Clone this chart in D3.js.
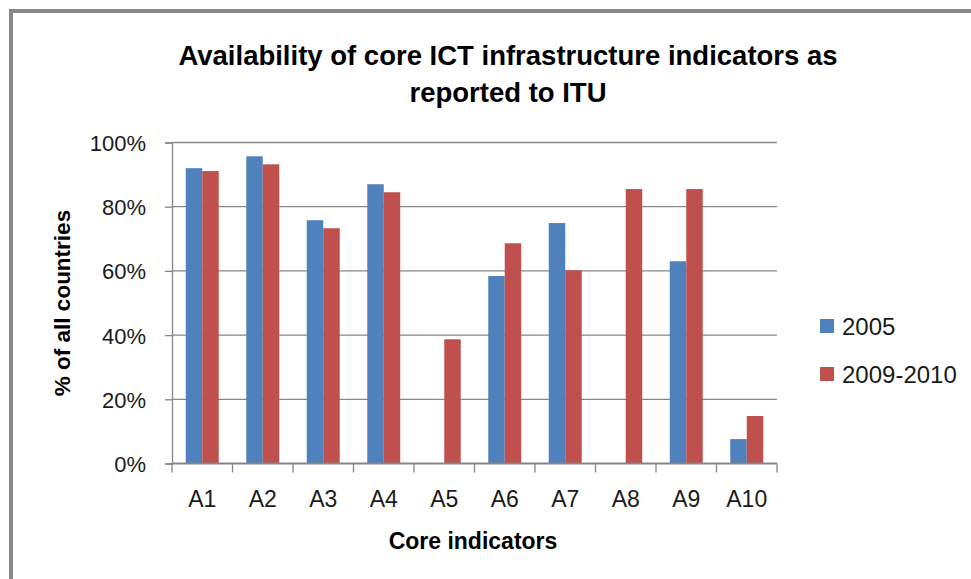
<!DOCTYPE html>
<html>
<head>
<meta charset="utf-8">
<script src="https://cdn.jsdelivr.net/npm/d3@7"></script>
<style>
  html, body { margin: 0; padding: 0; background: #fff; }
  svg { display: block; }
</style>
</head>
<body>
<div id="chart"></div>
<script>
// Data
const categories = ['A1', 'A2', 'A3', 'A4', 'A5', 'A6', 'A7', 'A8', 'A9', 'A10'];
const seriesNames = ['2005', '2009-2010'];
const values2005 = [0.920, 0.957, 0.758, 0.870, 0, 0.584, 0.749, 0, 0.630, 0.076];
const values2010 = [0.911, 0.932, 0.733, 0.845, 0.387, 0.686, 0.602, 0.855, 0.855, 0.148];
const yTicks = [0, 0.2, 0.4, 0.6, 0.8, 1.0];
const colors = ['#4f81bd', '#c0504d'];

// Config
const width = 971;
const height = 579;
const margin = {top: 142.5, right: 194, bottom: 115.5, left: 172};
const gridColor = '#868686';
const font = '"Liberation Sans", Arial, sans-serif';

const data = categories.map((c, i) => ({key: c, values: [values2005[i], values2010[i]]}));

const svg = d3.select('#chart').append('svg')
  .attr('width', width)
  .attr('height', height);

// Outer chart border (only top and left are visible in the frame)
svg.append('rect')
  .attr('x', 11)
  .attr('y', 11)
  .attr('width', width + 20)
  .attr('height', height + 20)
  .attr('fill', 'none')
  .attr('stroke', '#888888')
  .attr('stroke-width', 4);

// Scales
const x0 = d3.scaleBand()
  .domain(categories)
  .range([margin.left, width - margin.right])
  .paddingInner(0.455)
  .paddingOuter(0.2275);

const x1 = d3.scaleBand()
  .domain([0, 1])
  .range([0, x0.bandwidth()]);

const xCat = d3.scaleBand()
  .domain(categories)
  .range([margin.left, width - margin.right]);

const y = d3.scaleLinear()
  .domain([0, 1])
  .range([height - margin.bottom, margin.top]);

// Gridlines
svg.append('g')
  .selectAll('line')
  .data(yTicks.slice(1))
  .join('line')
  .attr('x1', margin.left)
  .attr('x2', width - margin.right)
  .attr('y1', d => y(d))
  .attr('y2', d => y(d))
  .attr('stroke', gridColor)
  .attr('stroke-width', 1.3);

// Bars
svg.append('g')
  .selectAll('g')
  .data(data)
  .join('g')
  .attr('transform', d => `translate(${x0(d.key)},0)`)
  .selectAll('rect')
  .data(d => d.values.map((v, i) => ({i, v})))
  .join('rect')
  .attr('x', d => x1(d.i))
  .attr('width', x1.bandwidth())
  .attr('y', d => y(d.v))
  .attr('height', d => y(0) - y(d.v))
  .attr('fill', d => colors[d.i]);

// Y axis
const yAxis = svg.append('g')
  .attr('transform', `translate(${margin.left},0)`)
  .call(d3.axisLeft(y).tickValues(yTicks).tickFormat(d3.format('.0%')).tickSize(7).tickPadding(19));
yAxis.select('.domain').attr('stroke', gridColor).attr('stroke-width', 1.3);
yAxis.selectAll('.tick line').attr('stroke', gridColor).attr('stroke-width', 1.3);
yAxis.selectAll('.tick text')
  .attr('font-family', font)
  .attr('font-size', 22)
  .attr('fill', '#1a1a1a')
  .attr('dy', '0.36em');

// X axis: ticks at category boundaries
const xAxisG = svg.append('g')
  .attr('transform', `translate(0,${height - margin.bottom})`);
xAxisG.append('line')
  .attr('x1', margin.left)
  .attr('x2', width - margin.right)
  .attr('stroke', gridColor)
  .attr('stroke-width', 2);
xAxisG.selectAll('.bound')
  .data(categories.concat(['end']))
  .join('line')
  .attr('class', 'bound')
  .attr('x1', (d, i) => i < categories.length ? xCat(d) : xCat.range()[1])
  .attr('x2', (d, i) => i < categories.length ? xCat(d) : xCat.range()[1])
  .attr('y1', 0)
  .attr('y2', 9)
  .attr('stroke', gridColor)
  .attr('stroke-width', 1.3);
xAxisG.selectAll('.lbl')
  .data(categories)
  .join('text')
  .attr('class', 'lbl')
  .attr('x', d => xCat(d) + xCat.bandwidth() / 2)
  .attr('y', 43)
  .attr('text-anchor', 'middle')
  .attr('font-family', font)
  .attr('font-size', 23)
  .attr('fill', '#1a1a1a')
  .text(d => d);

// Axis titles
svg.append('text')
  .attr('x', 473)
  .attr('y', 549)
  .attr('text-anchor', 'middle')
  .attr('font-family', font)
  .attr('font-size', 23)
  .attr('font-weight', 'bold')
  .attr('fill', '#000')
  .text('Core indicators');

svg.append('text')
  .attr('transform', 'translate(70,303) rotate(-90)')
  .attr('text-anchor', 'middle')
  .attr('font-family', font)
  .attr('font-size', 22.5)
  .attr('font-weight', 'bold')
  .attr('fill', '#000')
  .text('% of all countries');

// Title
const titleLines = ['Availability of core ICT infrastructure indicators as', 'reported to ITU'];
svg.append('g')
  .selectAll('text')
  .data(titleLines)
  .join('text')
  .attr('x', 508)
  .attr('y', (d, i) => 65 + i * 37)
  .attr('text-anchor', 'middle')
  .attr('font-family', font)
  .attr('font-size', 27.5)
  .attr('font-weight', 'bold')
  .attr('fill', '#000')
  .text(d => d);

// Legend
const legend = svg.append('g')
  .selectAll('g')
  .data(seriesNames)
  .join('g')
  .attr('transform', (d, i) => `translate(820,${319 + i * 48})`);
legend.append('rect')
  .attr('width', 14)
  .attr('height', 14)
  .attr('fill', (d, i) => colors[i]);
legend.append('text')
  .attr('x', 22)
  .attr('y', 15.5)
  .attr('font-family', font)
  .attr('font-size', 24)
  .attr('fill', '#1a1a1a')
  .text(d => d);
</script>
</body>
</html>
